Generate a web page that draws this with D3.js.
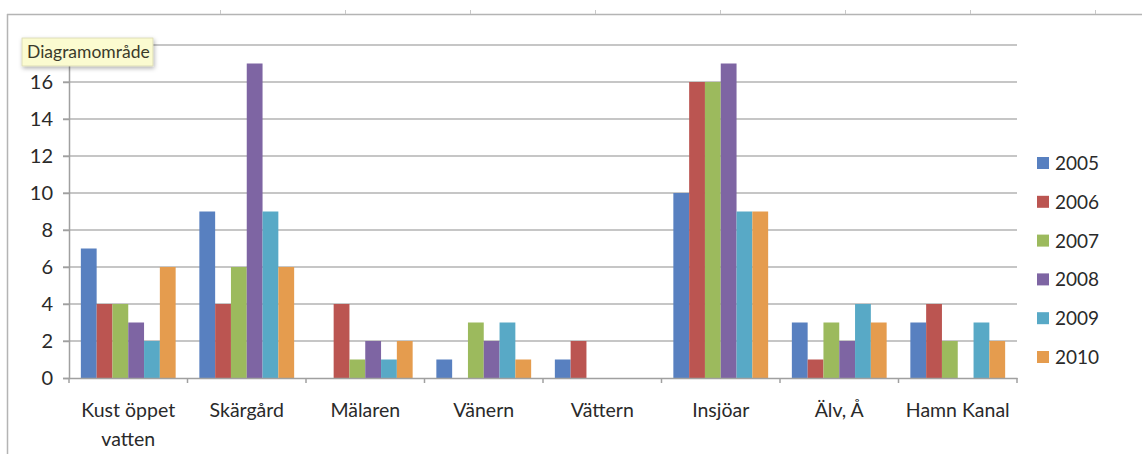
<!DOCTYPE html>
<html>
<head>
<meta charset="utf-8">
<script src="https://cdn.jsdelivr.net/npm/d3@7"></script>
<style>
  html, body { margin: 0; padding: 0; background: #ffffff; }
  svg { display: block; }
</style>
</head>
<body>
<svg id="chart" width="1142" height="454"></svg>
<script>
// ---- data ----
const categories = ["Kust öppet vatten", "Skärgård", "Mälaren", "Vänern", "Vättern", "Insjöar", "Älv, Å", "Hamn Kanal"];
const categoryLines = [["Kust öppet", "vatten"], ["Skärgård"], ["Mälaren"], ["Vänern"], ["Vättern"], ["Insjöar"], ["Älv, Å"], ["Hamn Kanal"]];
const years = ["2005", "2006", "2007", "2008", "2009", "2010"];
const v2005 = [7, 9, 0, 1, 1, 10, 3, 3];
const v2006 = [4, 4, 4, 0, 2, 16, 1, 4];
const v2007 = [4, 6, 1, 3, 0, 16, 3, 2];
const v2008 = [3, 17, 2, 2, 0, 17, 2, 0];
const v2009 = [2, 9, 1, 3, 0, 9, 4, 3];
const v2010 = [6, 6, 2, 1, 0, 9, 3, 2];
const yTicks = [0, 2, 4, 6, 8, 10, 12, 14, 16, 18];
const yTickLabels = ["0", "2", "4", "6", "8", "10", "12", "14", "16", ""];
const colors = ["#5880c0", "#bb5551", "#9cba5d", "#7e65a3", "#58a9c6", "#e59c4e"];
const tooltipText = "Diagramområde";

const seriesValues = [v2005, v2006, v2007, v2008, v2009, v2010];

(function () {
const svg = d3.select("#chart");
const FONT = "Lato, 'Open Sans', sans-serif";
const pLeft = 69, pRight = 1017, pTop = 45, pBottom = 378;

// outer frame (spreadsheet chart border)
svg.append("line").attr("x1", 7).attr("x2", 1142).attr("y1", 14.5).attr("y2", 14.5)
  .attr("stroke", "#b4b4b4").attr("stroke-width", 1.5);
svg.append("line").attr("x1", 7.5).attr("x2", 7.5).attr("y1", 14).attr("y2", 454)
  .attr("stroke", "#b4b4b4").attr("stroke-width", 1.5);
[220, 345, 470, 595, 720, 845, 970, 1095].forEach(x => {
  svg.append("line").attr("x1", x + 0.5).attr("x2", x + 0.5).attr("y1", 10).attr("y2", 14)
    .attr("stroke", "#c8c8c8").attr("stroke-width", 1);
});

const y = d3.scaleLinear().domain([0, 18]).range([pBottom, pTop]);
const x0 = d3.scaleBand().domain(categories).range([pLeft, pRight]).padding(0);
const x1 = d3.scaleBand().domain(years).range([0, x0.bandwidth()]).paddingInner(0).paddingOuter(0.75);

// gridlines
svg.append("g").selectAll("line.grid").data(yTicks.filter(t => t > 0)).enter().append("line")
  .attr("class", "grid")
  .attr("x1", pLeft - 6).attr("x2", pRight)
  .attr("y1", d => y(d)).attr("y2", d => y(d))
  .attr("stroke", "#b3b3b3").attr("stroke-width", 1.5);

// y axis
const yAxis = d3.axisLeft(y).tickValues(yTicks).tickSize(6).tickPadding(10)
  .tickFormat((d, i) => yTickLabels[i]);
const ya = svg.append("g").attr("transform", `translate(${pLeft},0)`).call(yAxis);
ya.select(".domain").attr("stroke", "#a0a0a0").attr("stroke-width", 1.5);
ya.selectAll(".tick line").attr("stroke", "#a0a0a0").attr("stroke-width", 1.5);
ya.selectAll(".tick text").attr("font-family", FONT).attr("font-size", 20).attr("fill", "#2a2a2a");

// bars
categories.forEach((c, ci) => {
  const grp = svg.append("g").attr("transform", `translate(${x0(c)},0)`);
  years.forEach((yr, si) => {
    const v = seriesValues[si][ci];
    if (v > 0) {
      grp.append("rect")
        .attr("x", x1(yr)).attr("width", x1.bandwidth())
        .attr("y", y(v)).attr("height", y(0) - y(v))
        .attr("fill", colors[si]);
    }
  });
});

// x axis
const xAxis = d3.axisBottom(x0).tickSize(0).tickFormat("");
const xa = svg.append("g").attr("transform", `translate(0,${pBottom})`).call(xAxis);
xa.select(".domain").attr("stroke", "#a0a0a0").attr("stroke-width", 1.5);
const bounds = categories.map(c => x0(c)).concat([pRight]);
svg.selectAll("line.ctick").data(bounds).enter().append("line")
  .attr("class", "ctick")
  .attr("x1", d => d).attr("x2", d => d).attr("y1", pBottom).attr("y2", pBottom + 5)
  .attr("stroke", "#a0a0a0").attr("stroke-width", 1.5);

// category labels
categories.forEach((c, ci) => {
  const cx = x0(c) + x0.bandwidth() / 2;
  const t = svg.append("text")
    .attr("x", cx).attr("y", 417)
    .attr("text-anchor", "middle").attr("font-family", FONT).attr("font-size", 19.5).attr("fill", "#2a2a2a");
  categoryLines[ci].forEach((ln, li) => {
    t.append("tspan").attr("x", cx).attr("dy", li === 0 ? 0 : 29).text(ln);
  });
});

// legend
const legend = svg.append("g");
years.forEach((yr, i) => {
  const cy = 163 + i * 38.8;
  legend.append("rect").attr("x", 1037).attr("y", cy - 6).attr("width", 12).attr("height", 12).attr("fill", colors[i]);
  legend.append("text").attr("x", 1055).attr("y", cy + 7).attr("font-family", FONT).attr("font-size", 19)
    .attr("fill", "#2a2a2a").text(yr);
});

// tooltip
const defs = svg.append("defs");
const f = defs.append("filter").attr("id", "shadow").attr("x", "-20%").attr("y", "-40%").attr("width", "140%").attr("height", "180%");
f.append("feDropShadow").attr("dx", 1).attr("dy", 2).attr("stdDeviation", 2).attr("flood-color", "#000").attr("flood-opacity", 0.3);
svg.append("rect").attr("x", 22).attr("y", 38).attr("width", 131).attr("height", 28)
  .attr("fill", "#fbfbd0").attr("stroke", "#d8d8b0").attr("stroke-width", 0.8).attr("filter", "url(#shadow)");
svg.append("text").attr("x", 27).attr("y", 57.5).attr("font-family", FONT).attr("font-size", 17.5)
  .attr("fill", "#3a3a2a").text(tooltipText);
})();
</script>
</body>
</html>
